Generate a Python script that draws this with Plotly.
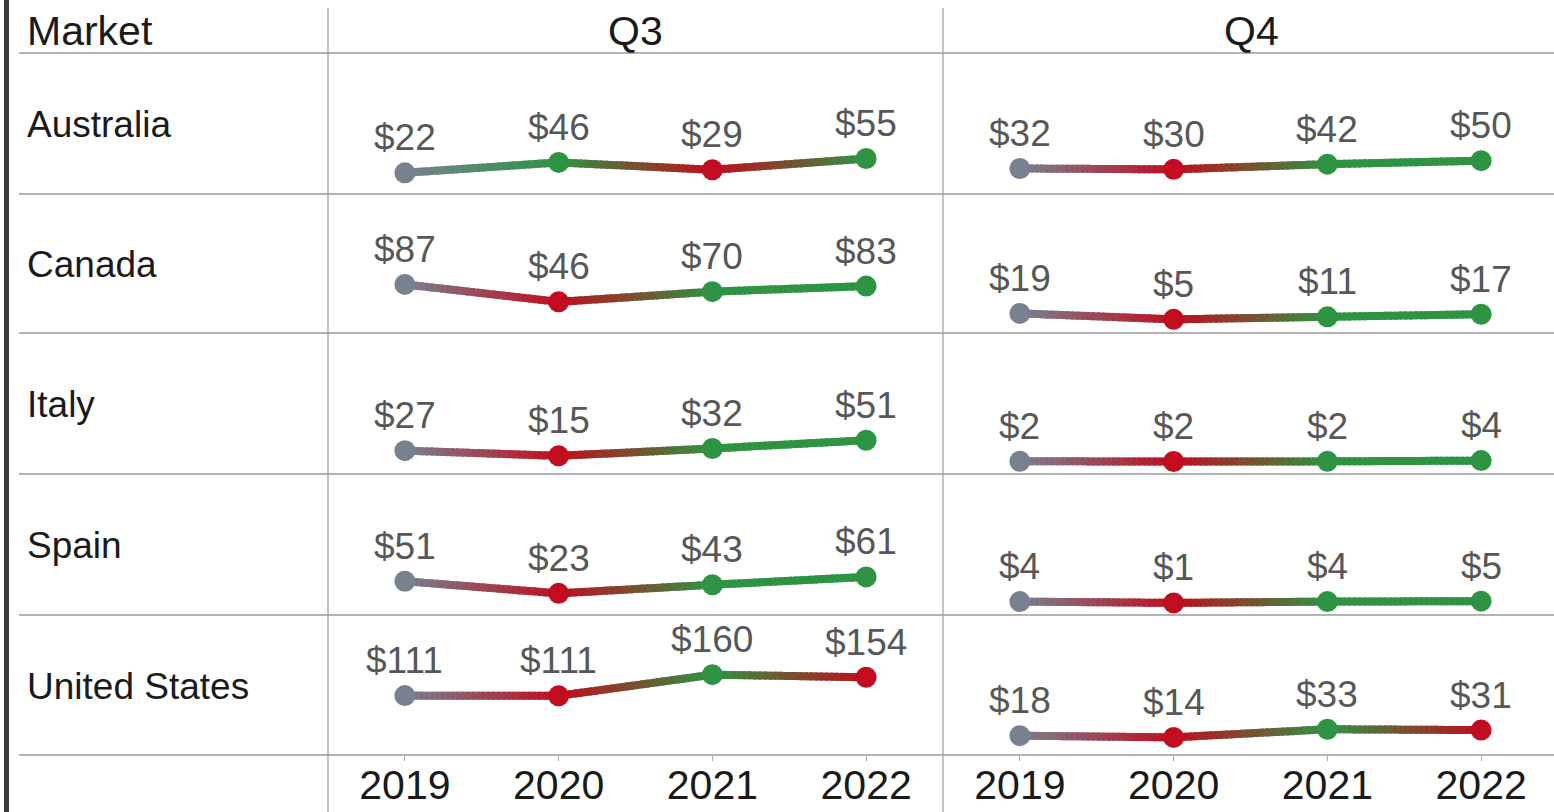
import numpy as np
import plotly.graph_objects as go

W, H = 1554, 812

years = ["2019", "2020", "2021", "2022"]
markets = ["Australia", "Canada", "Italy", "Spain", "United States"]
quarters = ["Q3", "Q4"]

q3_australia = [22, 46, 29, 55]
q3_canada = [87, 46, 70, 83]
q3_italy = [27, 15, 32, 51]
q3_spain = [51, 23, 43, 61]
q3_united_states = [111.3, 110.8, 160, 154]

q4_australia = [32, 30, 42, 50]
q4_canada = [19, 5, 11, 17]
q4_italy = [2.4, 1.9, 2.2, 4.0]
q4_spain = [4, 1, 4, 5]
q4_united_states = [18, 14, 33, 31]

q3_values = [q3_australia, q3_canada, q3_italy, q3_spain, q3_united_states]
q4_values = [q4_australia, q4_canada, q4_italy, q4_spain, q4_united_states]

GREY = (120, 129, 144)
GREEN = (46, 148, 68)
RED = (192, 13, 31)
GRID = "#9a9a9a"
FONT = "Liberation Sans, Arial, sans-serif"

# layout in pixels
row_lines = [53, 194, 333, 474, 615, 755]
col_lines = [328, 943]


def px_x(p):
    return p / W


def px_y(p):
    return 1 - p / H


def rgb(c):
    return "rgb(%d,%d,%d)" % tuple(int(round(v)) for v in c)


def point_colors(vals):
    cols = [GREY]
    for i in range(1, len(vals)):
        cols.append(GREEN if vals[i] > vals[i - 1] else RED)
    return cols


fig = go.Figure()
annotations = []
STEPS = 30
xs = np.arange(len(years))

for c, qvals in enumerate([q3_values, q4_values]):
    xa = "x" if c == 0 else "x2"
    for r, vals in enumerate(qvals):
        ya = "y" if r == 0 else "y%d" % (r + 1)
        cols = point_colors(vals)
        # gradient line: each segment split into short pieces of blended colour
        for s in range(len(vals) - 1):
            c0 = np.array(cols[s], float)
            c1 = np.array(cols[s + 1], float)
            x0, x1 = xs[s], xs[s + 1]
            v0, v1 = vals[s], vals[s + 1]
            for k in range(STEPS):
                ta = k / STEPS
                tb = min(1.0, (k + 1.6) / STEPS)
                tm = (k + 0.5) / STEPS
                col = c0 + (c1 - c0) * tm
                fig.add_trace(go.Scatter(
                    x=[x0 + (x1 - x0) * ta, x0 + (x1 - x0) * tb],
                    y=[v0 + (v1 - v0) * ta, v0 + (v1 - v0) * tb],
                    mode="lines", line=dict(color=rgb(col), width=8),
                    xaxis=xa, yaxis=ya, hoverinfo="skip", showlegend=False))
        fig.add_trace(go.Scatter(
            x=xs, y=vals, mode="markers",
            marker=dict(size=21, color=[rgb(cc) for cc in cols]),
            xaxis=xa, yaxis=ya, showlegend=False,
            hovertemplate="%{y:$.0f}<extra></extra>"))
        for i, v in enumerate(vals):
            annotations.append(dict(
                x=xs[i], y=v, xref=xa, yref=ya, text="$%d" % round(v),
                showarrow=False, yanchor="middle", yshift=35,
                font=dict(family=FONT, size=37, color="#575757")))

layout = dict(
    width=W, height=H,
    margin=dict(l=0, r=0, t=0, b=0, pad=0),
    paper_bgcolor="white", plot_bgcolor="rgba(0,0,0,0)",
    showlegend=False,
)
tickkw = dict(tickmode="array", tickvals=list(xs), ticktext=years,
              showgrid=False, zeroline=False, showline=False,
              ticks="outside", ticklen=5, tickwidth=1, tickcolor="#aaaaaa",
              tickfont=dict(family=FONT, size=41, color="#1a1a1a"),
              ticklabelstandoff=-11,
              anchor="y5", fixedrange=True, automargin=False)
layout["xaxis"] = dict(domain=[px_x(col_lines[0]), px_x(col_lines[1])],
                       range=[-0.5, 3.5], **tickkw)
q4_right = (W - col_lines[1]) / ((col_lines[1] - col_lines[0]) / 4.0) - 0.5
layout["xaxis2"] = dict(domain=[px_x(col_lines[1]), 1],
                        range=[-0.5, q4_right], **tickkw)
for r in range(5):
    key = "yaxis" if r == 0 else "yaxis%d" % (r + 1)
    layout[key] = dict(domain=[px_y(row_lines[r + 1]), px_y(row_lines[r])],
                       range=[-27, 299], visible=False, anchor="x",
                       fixedrange=True, automargin=False)

shapes = []
shapes.append(dict(type="rect", xref="paper", yref="paper",
                   x0=px_x(4), x1=px_x(9), y0=0, y1=1,
                   fillcolor="#3c3c3c", line=dict(width=0), layer="above"))
for ly in row_lines:
    shapes.append(dict(type="line", xref="paper", yref="paper",
                       x0=px_x(19), x1=1, y0=px_y(ly), y1=px_y(ly),
                       line=dict(color=GRID, width=1.5), layer="below"))
for lx in col_lines:
    shapes.append(dict(type="line", xref="paper", yref="paper",
                       x0=px_x(lx), x1=px_x(lx), y0=px_y(8), y1=0,
                       line=dict(color=GRID, width=1.2), layer="below"))

annotations.append(dict(x=px_x(25), y=px_y(31), xref="paper", yref="paper",
                        text="Market", showarrow=False, xanchor="left",
                        yanchor="middle",
                        font=dict(family=FONT, size=41, color="#1a1a1a")))
q_centers = [(col_lines[0] + col_lines[1]) / 2, (col_lines[1] + 1559) / 2]
for q, cx in zip(quarters, q_centers):
    annotations.append(dict(x=px_x(cx), y=px_y(31), xref="paper",
                            yref="paper", text=q, showarrow=False,
                            xanchor="center", yanchor="middle",
                            font=dict(family=FONT, size=41, color="#1a1a1a")))
for r, m in enumerate(markets):
    cy = (row_lines[r] + row_lines[r + 1]) / 2 + 1
    annotations.append(dict(x=px_x(25), y=px_y(cy), xref="paper",
                            yref="paper", text=m, showarrow=False,
                            xanchor="left", yanchor="middle",
                            font=dict(family=FONT, size=37, color="#1a1a1a")))

layout["shapes"] = shapes
layout["annotations"] = annotations
fig.update_layout(**layout)
fig.write_html("out.html", config={"displayModeBar": False},
               post_script="document.body.style.margin='0';")
